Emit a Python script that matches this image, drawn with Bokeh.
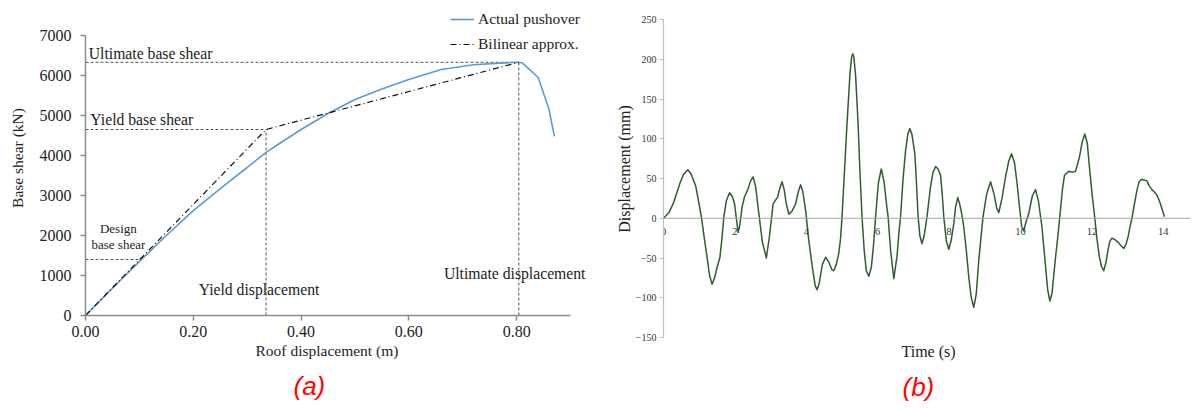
from bokeh.plotting import figure
from bokeh.layouts import row
from bokeh.models import Range1d, FixedTicker, Legend, LegendItem, Label, Title, Span
from bokeh.embed import file_html
from bokeh.resources import INLINE

# ---------------- (a) pushover data ----------------
push_disp = [0, 0.05, 0.10, 0.15, 0.20, 0.26, 0.30, 0.335, 0.36, 0.40, 0.45, 0.50,
             0.55, 0.60, 0.66, 0.72, 0.77, 0.80, 0.81, 0.84, 0.86, 0.87]
push_shear = [0, 680, 1350, 2000, 2620, 3280, 3700, 4080, 4300, 4650, 5050, 5400,
              5660, 5900, 6150, 6270, 6310, 6330, 6320, 5950, 5150, 4480]
bilin_disp = [0.0, 0.335, 0.804]
bilin_shear = [0, 4650, 6330]
yield_disp = 0.335
ultimate_disp = 0.804
yield_shear = 4650
ultimate_shear = 6330
design_shear = 1400
design_disp = 0.102
left_x_ticks = [0, 0.2, 0.4, 0.6, 0.8]
left_x_labels = ["0.00", "0.20", "0.40", "0.60", "0.80"]
left_y_ticks = [0, 1000, 2000, 3000, 4000, 5000, 6000, 7000]

# ---------------- (b) time history data ----------------
time_s = [0, 0.15, 0.27, 0.38, 0.46, 0.56, 0.68, 0.78, 0.9, 0.98, 1.06, 1.14, 1.22, 1.29,
          1.36, 1.43, 1.5, 1.58, 1.64, 1.69, 1.76, 1.85, 1.93, 1.99, 2.04, 2.09, 2.14,
          2.2, 2.27, 2.36, 2.44, 2.51, 2.58, 2.67, 2.77, 2.88, 2.97, 3.07, 3.2, 3.26,
          3.32, 3.38, 3.44, 3.51, 3.6, 3.7, 3.78, 3.84, 3.9, 3.98, 4.07, 4.17, 4.25,
          4.3, 4.36, 4.45, 4.54, 4.63, 4.72, 4.77, 4.84, 4.91, 4.96, 5.0, 5.07, 5.14,
          5.22, 5.27, 5.3, 5.33, 5.38, 5.45, 5.5, 5.56, 5.62, 5.68, 5.75, 5.82, 5.88,
          5.94, 6.02, 6.1, 6.18, 6.24, 6.29, 6.36, 6.45, 6.54, 6.6, 6.64, 6.71, 6.78,
          6.84, 6.9, 6.96, 7.04, 7.09, 7.13, 7.18, 7.24, 7.3, 7.38, 7.48, 7.55, 7.62,
          7.69, 7.76, 7.81, 7.85, 7.92, 7.99, 8.06, 8.13, 8.18, 8.24, 8.3, 8.36, 8.41,
          8.48, 8.55, 8.62, 8.69, 8.76, 8.83, 8.89, 8.95, 9.05, 9.16, 9.26, 9.33, 9.39,
          9.48, 9.58, 9.67, 9.75, 9.83, 9.9, 9.95, 10.03, 10.09, 10.15, 10.23, 10.33,
          10.42, 10.5, 10.6, 10.7, 10.76, 10.82, 10.88, 10.98, 11.04, 11.1, 11.17,
          11.23, 11.35, 11.46, 11.54, 11.65, 11.73, 11.8, 11.87, 11.93, 12.0, 12.08,
          12.14, 12.21, 12.27, 12.33, 12.39, 12.45, 12.5, 12.56, 12.65, 12.75, 12.82,
          12.89, 12.95, 13.01, 13.06, 13.12, 13.19, 13.26, 13.32, 13.39, 13.47, 13.54,
          13.6, 13.68, 13.75, 13.82, 13.88, 13.94, 14.03]
disp_mm = [0, 7, 18, 33, 44, 55, 61, 55, 41, 22, 2, -24, -49, -72,
           -83, -75, -62, -49, -24, 2, 22, 32, 27, 18, 0, -18, -8,
           14, 27, 36, 47, 52, 40, 6, -30, -50, -22, 18, 27, 38,
           46, 36, 18, 5, 9, 18, 34, 42, 34, 10, -28, -62, -85,
           -90, -82, -58, -49, -55, -65, -66, -58, -44, -25, 2, 60, 119,
           180, 203, 207, 203, 180, 119, 60, 2, -40, -66, -73, -62, -35,
           2, 45, 62, 45, 20, 2, -40, -76, -48, -15, 2, 50, 85,
           105, 113, 105, 81, 40, 2, -22, -32, -22, 2, 40, 58, 65,
           62, 54, 28, 2, -28, -39, -27, -7, 14, 26, 17, 4, -11,
           -40, -74, -100, -112, -95, -53, -25, 2, 30, 46, 30, 13, 7,
           25, 52, 72, 81, 70, 45, 23, -10, -16, -5, 6, 28,
           36, 22, -11, -60, -90, -104, -95, -49, -25, 2, 35,
           54, 59, 58, 59, 77, 97, 106, 94, 64, 32, 0,
           -26, -49, -61, -66, -56, -40, -29, -25, -27, -31, -35,
           -38, -33, -24, -12, 0, 18, 35, 46, 49, 48, 47,
           41, 36, 33, 29, 23, 15, 2]
right_x_ticks = [0, 2, 4, 6, 8, 10, 12, 14]
right_y_ticks = [-150, -100, -50, 0, 50, 100, 150, 200, 250]

SERIF = "Liberation Serif"
SANS = "Liberation Sans"

# ================= Left figure =================
p1 = figure(frame_width=505, frame_height=315, x_range=Range1d(0, 0.937), y_range=Range1d(0, 7875),
            output_backend="svg", toolbar_location=None,
            min_border_left=85, min_border_right=8, min_border_top=0, min_border_bottom=90)
p1.outline_line_color = None
p1.grid.visible = False

guide = dict(line_color="#555555", line_width=1, line_dash="3 2")
p1.line([0, ultimate_disp], [ultimate_shear, ultimate_shear], **guide)
p1.line([0, yield_disp], [yield_shear, yield_shear], **guide)
p1.line([0, design_disp], [design_shear, design_shear], **guide)
p1.line([yield_disp, yield_disp], [0, yield_shear], **guide)
p1.line([ultimate_disp, ultimate_disp], [0, ultimate_shear], **guide)

r_push = p1.line(push_disp, push_shear, line_color="#5b9bd5", line_width=1.6)
r_bil = p1.line(bilin_disp, bilin_shear, line_color="#111111", line_width=1.2, line_dash="6 3 1 3")

legend = Legend(items=[LegendItem(label="Actual pushover", renderers=[r_push]),
                       LegendItem(label="Bilinear approx.", renderers=[r_bil])],
                location="top_right", margin=10, padding=0, spacing=7,
                glyph_width=24, glyph_height=16, label_standoff=4, label_height=16,
                label_text_font=SERIF, label_text_font_size="15.5px", label_text_color="#222222",
                background_fill_alpha=0, border_line_color=None)
p1.add_layout(legend)

lab = dict(text_font=SERIF, text_font_size="15.7px", text_color="#222222", text_baseline="middle")
p1.add_layout(Label(x=0.006, y=6550, text="Ultimate base shear", **lab))
p1.add_layout(Label(x=0.009, y=4900, text="Yield base shear", **lab))
p1.add_layout(Label(x=0.21, y=650, text="Yield displacement", **lab))
p1.add_layout(Label(x=0.665, y=1050, text="Ultimate displacement", **lab))
lab13 = dict(text_font=SERIF, text_font_size="13px", text_color="#222222",
             text_baseline="middle", text_align="center")
p1.add_layout(Label(x=0.061, y=2175, text="Design", **lab13))
p1.add_layout(Label(x=0.061, y=1775, text="base shear", **lab13))

for ax in (p1.xaxis[0], p1.yaxis[0]):
    ax.axis_line_color = "#8c8c8c"
    ax.axis_line_width = 1.5
    ax.major_tick_line_color = "#8c8c8c"
    ax.major_tick_line_width = 1.5
    ax.major_tick_out = 5
    ax.major_tick_in = 0
    ax.minor_tick_line_color = None
    ax.major_label_text_font = SERIF
    ax.major_label_text_font_size = "16px"
    ax.major_label_text_color = "#222222"
    ax.axis_label_text_font = SERIF
    ax.axis_label_text_font_size = "15.5px"
    ax.axis_label_text_font_style = "normal"
    ax.axis_label_text_color = "#222222"

p1.xaxis.ticker = FixedTicker(ticks=left_x_ticks)
p1.xaxis.major_label_overrides = {t: l for t, l in zip(left_x_ticks, left_x_labels)}
p1.xaxis.bounds = (0, 0.9)
p1.yaxis.ticker = FixedTicker(ticks=left_y_ticks)
p1.yaxis.bounds = (0, 7000)
p1.yaxis.major_label_standoff = 9
p1.yaxis.axis_label = "Base shear (kN)"
p1.yaxis.axis_label_standoff = 11

p1.add_layout(Title(text="Roof displacement (m)", align="left", offset=170, text_font=SERIF,
                    text_font_size="15.5px", text_font_style="normal", text_color="#222222",
                    standoff=1), "below")
p1.add_layout(Title(text="(a)", align="left", offset=208, text_font=SANS, text_font_size="26px",
                    text_font_style="italic", text_color="#ff0000", standoff=18), "below")

# ================= Right figure =================
p2 = figure(frame_width=527, frame_height=337, x_range=Range1d(0, 14.76), y_range=Range1d(-150, 273.9),
            output_backend="svg", toolbar_location=None,
            min_border_left=65, min_border_right=0, min_border_top=0, min_border_bottom=68)
p2.outline_line_color = None
p2.grid.visible = False
p2.xaxis.visible = False

p2.add_layout(Span(location=0, dimension="width", line_color="#a6a6a6", line_width=1.2))
p2.text(x=right_x_ticks, y=[0] * len(right_x_ticks), text=[str(t) for t in right_x_ticks],
        text_align="center", text_baseline="middle", y_offset=13,
        text_font={"value": SERIF}, text_font_size={"value": "10.5px"}, text_color="#333333")

p2.line(time_s, disp_mm, line_color="#2e5e2e", line_width=1.5, line_join="round")

ya = p2.yaxis[0]
ya.ticker = FixedTicker(ticks=right_y_ticks)
ya.bounds = (-150, 250)
ya.axis_line_color = "#bfbfbf"
ya.axis_line_width = 1.2
ya.major_tick_line_color = "#bfbfbf"
ya.major_tick_out = 4
ya.major_tick_in = 0
ya.minor_tick_line_color = None
ya.major_label_standoff = 3
ya.major_label_text_font = SERIF
ya.major_label_text_font_size = "10px"
ya.major_label_text_color = "#333333"
ya.axis_label = "Displacement (mm)"
ya.axis_label_text_font = SERIF
ya.axis_label_text_font_size = "16px"
ya.axis_label_text_font_style = "normal"
ya.axis_label_text_color = "#222222"
ya.axis_label_standoff = 0

p2.add_layout(Title(text="Time (s)", align="left", offset=238, text_font=SERIF, text_font_size="16px",
                    text_font_style="normal", text_color="#222222", standoff=6), "below")
p2.add_layout(Title(text="(b)", align="left", offset=239, text_font=SANS, text_font_size="26px",
                    text_font_style="italic", text_color="#ff0000", standoff=14), "below")

layout = row(p1, p2)
open("out.html", "w").write(file_html(layout, INLINE))
